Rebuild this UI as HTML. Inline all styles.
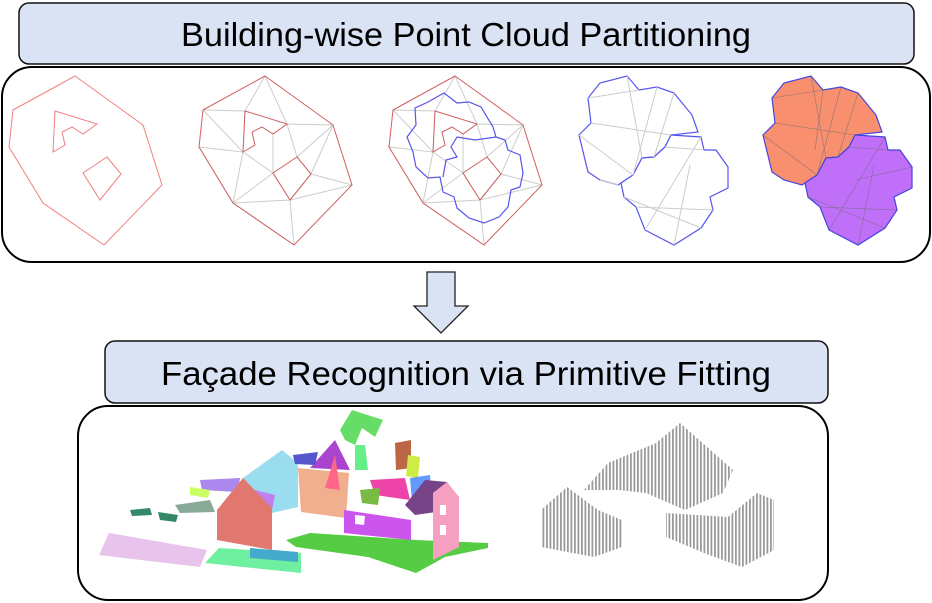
<!DOCTYPE html><html><head><style>body{margin:0;background:#fff}svg{display:block}</style></head><body>
<svg width="932" height="603" viewBox="0 0 932 603" xmlns="http://www.w3.org/2000/svg">
<defs><pattern id="st" width="3.5" height="4" patternUnits="userSpaceOnUse"><rect width="1.8" height="4" fill="#9a9a9a"/></pattern></defs>
<rect x="19" y="3" width="895" height="61" rx="10" fill="#dae3f3" stroke="#111" stroke-width="1.5"/>
<text x="466" y="46" font-family="Liberation Sans, sans-serif" font-size="33" text-anchor="middle" fill="#000" textLength="570" lengthAdjust="spacingAndGlyphs">Building-wise Point Cloud Partitioning</text>
<rect x="2" y="67" width="928" height="195" rx="30" fill="#fff" stroke="#000" stroke-width="2"/>
<g fill="none" stroke-width="1">
<g stroke="#f08080">
<polygon points="75,76 143,125 162,185 104,245 43,203 9,147 13,110"/>
<polygon points="55,111 97,124 83,134 72,127 62,132 65,145 53,152"/>
<polygon points="107,157 121,174 100,200 83,173"/>
</g>
<g transform="translate(190,0)">
<g stroke="#ccc"><path d="M13,110 L55,111 L75,76 L97,124 L143,125 L121,174 L162,185 L100,200 L104,245 L43,203 L9,147 L53,152 L43,203 L100,200 L83,173 L53,152 L13,110 M55,111 L53,152 M97,124 L107,157 L143,125 M83,134 L83,173 M121,174 L143,125 M100,200 L121,174 M43,203 L83,173"/></g>
<g stroke="#d06060"><polygon points="75,76 143,125 162,185 104,245 43,203 9,147 13,110"/><polygon points="55,111 97,124 83,134 72,127 62,132 65,145 53,152"/><polygon points="107,157 121,174 100,200 83,173"/></g>
</g>
<g transform="translate(380,0)">
<g stroke="#ccc"><path d="M13,110 L55,111 L75,76 L97,124 L143,125 L121,174 L162,185 L100,200 L104,245 L43,203 L9,147 L53,152 L43,203 L100,200 L83,173 L53,152 L13,110 M55,111 L53,152 M97,124 L107,157 L143,125 M83,134 L83,173 M121,174 L143,125 M100,200 L121,174 M43,203 L83,173"/></g>
<g stroke="#d06060"><polygon points="75,76 143,125 162,185 104,245 43,203 9,147 13,110"/><polygon points="55,111 97,124 83,134 72,127 62,132 65,145 53,152"/><polygon points="107,157 121,174 100,200 83,173"/></g>
</g>
<g stroke="#5555ee" stroke-width="1.2">
<polygon points="444,93 457,103 469,102 481,107 493,127 496,137 505,140 508,150 520,155 523,173 520,187 511,190 508,207 499,217 484,223 469,218 457,208 454,197 443,192 440,177 428,178 416,167 413,152 407,137 416,125 415,108 428,102"/>
<polyline points="496,137 475,140 457,137 451,147 457,157 446,160 443,177"/>
</g>
<g stroke="#5555ee" stroke-width="1.2" fill="#fff">
<polygon points="627,76 639,90 657,87 674,93 692,115 698,132 671,135 665,147 654,157 642,158 633,175 618,185 600,180 588,172 579,135 591,123 588,98 600,83"/>
<polygon points="671,135 701,137 704,150 716,150 728,167 728,188 710,197 713,210 701,228 674,245 645,230 636,207 624,197 621,183 633,175 642,158 654,157 665,147"/>
</g>
<g stroke="#ccc"><path d="M627,76 L642,158 M657,87 L633,175 M591,123 L671,135 M579,135 L633,175 M674,93 L654,157 M600,180 L618,185 M645,230 L701,137 M674,245 L690,165 M636,207 L713,210 M624,197 L701,228 M665,147 L704,150 M588,98 L639,90"/></g>
<g stroke="#4444dd" stroke-width="1.2">
<polygon fill="#f89070" points="811,76 823,90 841,87 858,93 876,115 882,132 855,135 849,147 838,157 826,158 817,175 802,185 784,180 772,172 763,135 775,123 772,98 784,83"/>
<polygon fill="#c070f8" points="855,135 885,137 888,150 900,150 912,167 912,188 894,197 897,210 885,228 858,245 829,230 820,207 808,197 805,183 817,175 826,158 838,157 849,147"/>
</g>
<g stroke="#666" stroke-width="0.6" opacity="0.7"><path d="M811,76 L826,158 M841,87 L817,175 M775,123 L855,135 M763,135 L817,175 M858,93 L838,157 M829,230 L885,137 M858,245 L874,165 M820,207 L897,210 M808,197 L885,228 M849,147 L888,150 M772,98 L823,90 M823,90 L815,150 M912,167 L855,180"/></g>
</g>
<polygon points="427,272 455,272 455,306 468,306 441,333 414,306 427,306" fill="#dae3f3" stroke="#222" stroke-width="1.3"/>
<rect x="105" y="341" width="723" height="62" rx="10" fill="#dae3f3" stroke="#111" stroke-width="1.5"/>
<text x="466" y="385" font-family="Liberation Sans, sans-serif" font-size="33" text-anchor="middle" fill="#000" textLength="610" lengthAdjust="spacingAndGlyphs">Façade Recognition via Primitive Fitting</text>
<rect x="78" y="406" width="750" height="194" rx="30" fill="#fff" stroke="#000" stroke-width="2"/>
<g fill="url(#st)">
<polygon points="541,547 541,510 567,487 598,510 622,520 622,547 594,557"/>
<polygon points="584,490 608,463 656,443 680,423 733,470 723,493 685,510 646,493 618,490"/>
<polygon points="666,513 728,517 757,493 774,500 774,550 742,567 704,553 666,537"/>
</g>
<g>
<polygon fill="#e8c4ec" points="109,533 207,550 200,567 99,555"/>
<polygon fill="#6ef0a0" points="219,548 301,553 301,573 205,563"/>
<polygon fill="#55cc44" points="286,540 310,533 416,540 488,543 488,548 445,557 416,573 368,557 296,547"/>
<polygon fill="#aa88ee" points="200,480 240,478 238,492 202,490"/>
<polygon fill="#88aa99" points="175,505 210,500 215,512 180,513"/>
<polygon fill="#338866" points="130,510 150,508 152,515 132,516"/>
<polygon fill="#338866" points="158,512 178,515 176,522 160,520"/>
<polygon fill="#ccff66" points="190,487 210,490 208,498 190,495"/>
<polygon fill="#99ddee" points="243,478 282,450 298,463 298,507 272,513"/>
<polygon fill="#c080f0" points="255,490 275,495 272,510 258,505"/>
<polygon fill="#e07870" points="217,510 243,478 272,508 272,550 217,540"/>
<polygon fill="#44aacc" points="250,548 298,552 298,562 250,558"/>
<polygon fill="#f0b090" points="298,468 349,473 346,518 301,512"/>
<polygon fill="#aa44cc" points="310,468 335,440 350,470"/>
<polygon fill="#5555cc" points="293,455 318,452 315,465 295,464"/>
<polygon fill="#66dd66" points="340,430 352,410 383,420 375,437 362,428 355,445 345,440"/>
<polygon fill="#66ee88" points="355,445 365,445 368,470 355,470"/>
<polygon fill="#bb6644" points="395,443 411,440 411,468 396,470"/>
<polygon fill="#ccee44" points="408,455 420,457 418,478 406,476"/>
<polygon fill="#ee44aa" points="370,480 405,478 410,500 375,495"/>
<polygon fill="#77bb44" points="360,490 380,488 378,505 362,503"/>
<polygon fill="#cc55ee" points="344,510 411,520 411,540 344,533"/>
<polygon fill="#fff" points="355,515 365,516 364,525 355,524"/>
<polygon fill="#6699ff" points="410,478 430,475 432,500 412,502"/>
<polygon fill="#774488" points="425,480 447,482 450,510 415,515 405,505"/>
<polygon fill="#f5a0c0" points="433,493 447,482 459,497 459,547 433,560"/>
<polygon fill="#fff" points="440,505 446,505 446,515 440,515"/>
<polygon fill="#fff" points="440,525 446,525 446,535 440,535"/>
<polygon fill="#ff6688" points="325,488 335,455 340,490"/>
</g>
</svg>
</body></html>
